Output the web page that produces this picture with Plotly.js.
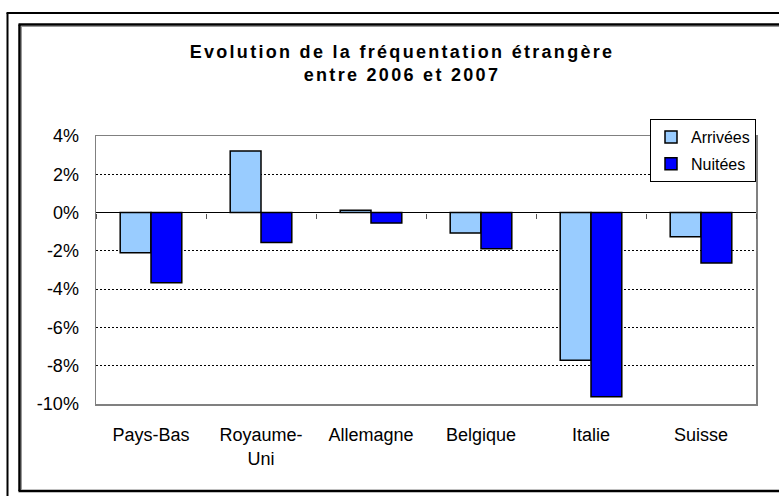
<!DOCTYPE html>
<html>
<head>
<meta charset="utf-8">
<script src="https://cdn.plot.ly/plotly-3.0.1.min.js"></script>
<style>
  html, body { margin: 0; padding: 0; background: #fff; }
  #chart { width: 779px; height: 496px; }
  .gtitle { letter-spacing: 2.3px; }
</style>
</head>
<body>
<div id="chart"></div>
<script>
// ---- data ----
const categories = ["Pays-Bas", "Royaume-<br>Uni", "Allemagne", "Belgique", "Italie", "Suisse"];
const arrivees = [-2.10, 3.22, 0.12, -1.07, -7.71, -1.26];
const nuitees  = [-3.66, -1.56, -0.55, -1.89, -9.62, -2.63];
const seriesNames = ["Arrivées", "Nuitées"];
const yTickVals = [4, 2, 0, -2, -4, -6, -8, -10];
const yTickText = ["4%", "2%", "0%", "-2%", "-4%", "-6%", "-8%", "-10%"];
const titleText = "<b>Evolution de la fréquentation étrangère<br>entre 2006 et 2007</b>";

// ---- layout geometry (pixels) ----
const W = 779, H = 496;
const M = { l: 96, r: 23, t: 136, b: 92 };
const pw = W - M.l - M.r, ph = H - M.t - M.b;
const px = v => (v - M.l) / pw;
const py = v => (H - M.b - v) / ph;

const font = "'Liberation Sans', Arial, sans-serif";

const traces = [
  {
    type: "bar", name: seriesNames[0], x: categories, y: arrivees,
    marker: { color: "#99CCFF", line: { color: "#000", width: 1.5 } },
    legendgroup: "a", hoverinfo: "skip"
  },
  {
    type: "bar", name: seriesNames[1], x: categories, y: nuitees,
    marker: { color: "#0000FF", line: { color: "#000", width: 1.5 } },
    legendgroup: "b", hoverinfo: "skip"
  },
  {
    type: "bar", x: categories, y: categories.map(() => null),
    xaxis: "x2", yaxis: "y", showlegend: false, hoverinfo: "skip"
  }
];

const frame = (x0, y0, x1, y1, color, width) => ({
  type: "line", xref: "paper", yref: "paper",
  x0: px(x0), y0: py(y0), x1: px(x1), y1: py(y1),
  line: { color: color, width: width }, layer: "above"
});

const layout = {
  width: W, height: H,
  margin: M,
  paper_bgcolor: "#fff", plot_bgcolor: "#fff",
  font: { family: font, size: 18, color: "#000" },
  title: {
    text: titleText,
    font: { family: font, size: 18, color: "#000" },
    xref: "paper", x: px(402), xanchor: "center",
    yref: "container", y: 1 - 58 / H, yanchor: "top"
  },
  barmode: "group",
  bargap: 0.44,
  bargroupgap: 0,
  showlegend: true,
  legend: {
    x: 1, xanchor: "right", y: py(119), yanchor: "top",
    bgcolor: "#fff", bordercolor: "#000", borderwidth: 1,
    font: { family: font, size: 16, color: "#000" },
    traceorder: "grouped", tracegroupgap: 3,
    itemwidth: 30
  },
  xaxis: {
    type: "category", range: [-0.5, 5.5],
    showline: true, linecolor: "#808080", linewidth: 1.5, mirror: true,
    ticks: "", showgrid: false, zeroline: false,
    ticklabelstandoff: 14,
    tickfont: { family: font, size: 18, color: "#000" }
  },
  xaxis2: {
    type: "category", range: [-0.5, 5.5], overlaying: "x",
    anchor: "free", position: 10 / 14,
    showline: false, showgrid: false, zeroline: false,
    showticklabels: false, ticks: "outside", tickson: "boundaries",
    ticklen: 5, tickwidth: 1, tickcolor: "#555"
  },
  yaxis: {
    range: [-10, 4], tickvals: yTickVals, ticktext: yTickText,
    showline: true, linecolor: "#808080", linewidth: 1.5, mirror: true,
    showgrid: true, gridcolor: "#000", gridwidth: 1, griddash: "2px,2px",
    zeroline: true, zerolinecolor: "#000", zerolinewidth: 1,
    ticks: "", ticklabelstandoff: 12,
    tickfont: { family: font, size: 18, color: "#000" }
  },
  shapes: [
    frame(7.5, 496, 7.5, 13, "#000", 2),
    frame(6.5, 13, 779, 13, "#000", 2),
    frame(19.5, 491, 19.5, 24.5, "#000", 2.5),
    frame(18.5, 24.5, 779, 24.5, "#000", 2.5),
    frame(18.5, 491, 779, 491, "#000", 2.5),
    frame(21.5, 490, 21.5, 26.5, "#999", 1),
    frame(21, 26.5, 779, 26.5, "#999", 1)
  ]
};

Plotly.newPlot("chart", traces, layout, { staticPlot: true, displayModeBar: false });
</script>
</body>
</html>
